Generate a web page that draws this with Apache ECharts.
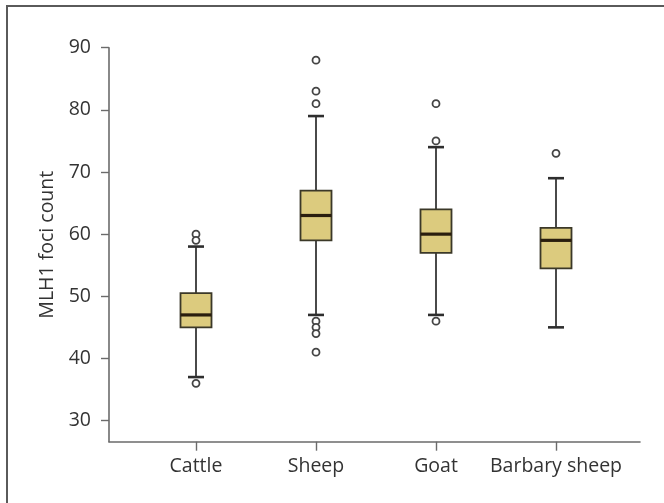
<!DOCTYPE html>
<html>
<head>
<meta charset="utf-8">
<script src="https://cdn.jsdelivr.net/npm/echarts@6/dist/echarts.min.js"></script>
<style>
html,body{margin:0;padding:0;background:#fff;}
#chart{width:664px;height:503px;}
</style>
</head>
<body>
<div id="chart"></div>
<script>
// ---- data ----
const categories = ['Cattle', 'Sheep', 'Goat', 'Barbary sheep'];
const lowerWhisker = [37, 47, 47, 45];
const q1 = [45, 59, 57, 54.5];
const median = [47, 63, 60, 59];
const q3 = [50.5, 67, 64, 61];
const upperWhisker = [58, 79, 74, 69];
const outliers = [
  [60, 59, 36],
  [88, 83, 81, 46, 45, 44, 41],
  [81, 75, 46],
  [73]
];
const yTicks = [30, 40, 50, 60, 70, 80, 90];
const xTicks = [1, 2, 3, 4];

// ---- build series data ----
const boxData = categories.map((c, i) => [i + 1, lowerWhisker[i], q1[i], median[i], q3[i], upperWhisker[i]]);
const outlierData = [];
outliers.forEach((arr, i) => arr.forEach(v => outlierData.push([i + 1, v])));

const FONT = 'Open Sans';
const FS = 19.5;
const chart = echarts.init(document.getElementById('chart'), null, {renderer: 'canvas'});

function renderBox(params, api) {
  const x = api.value(0);
  const pLow = api.coord([x, api.value(1)]);
  const pQ1 = api.coord([x, api.value(2)]);
  const pMed = api.coord([x, api.value(3)]);
  const pQ3 = api.coord([x, api.value(4)]);
  const pHigh = api.coord([x, api.value(5)]);
  const cx = pMed[0];
  const hw = 15.5;
  const cap = 8;
  const whiskerStyle = {stroke: '#4a4a4a', lineWidth: 2};
  const capStyle = {stroke: '#2e2e2e', lineWidth: 2.6};
  return {
    type: 'group',
    children: [
      {type: 'line', shape: {x1: cx, y1: pLow[1], x2: cx, y2: pQ1[1]}, style: whiskerStyle},
      {type: 'line', shape: {x1: cx, y1: pQ3[1], x2: cx, y2: pHigh[1]}, style: whiskerStyle},
      {type: 'line', shape: {x1: cx - cap, y1: pLow[1], x2: cx + cap, y2: pLow[1]}, style: capStyle},
      {type: 'line', shape: {x1: cx - cap, y1: pHigh[1], x2: cx + cap, y2: pHigh[1]}, style: capStyle},
      {type: 'rect', shape: {x: cx - hw, y: pQ3[1], width: hw * 2, height: pQ1[1] - pQ3[1]},
        style: {fill: '#dccb7e', stroke: '#3b3828', lineWidth: 1.8}},
      {type: 'line', shape: {x1: cx - hw, y1: pMed[1], x2: cx + hw, y2: pMed[1]},
        style: {stroke: '#2a1e0e', lineWidth: 3.2}}
    ]
  };
}

const option = {
  animation: false,
  backgroundColor: '#ffffff',
  grid: {left: 109, right: 24, top: 47.7, bottom: 61.3},
  xAxis: {
    type: 'value',
    min: 0.275,
    max: 4.7,
    splitLine: {show: false},
    axisLine: {show: true, lineStyle: {color: '#6b6b6b', width: 1.6}},
    axisTick: {show: true, customValues: xTicks, length: 9, lineStyle: {color: '#6b6b6b', width: 1.4}},
    axisLabel: {
      customValues: xTicks,
      formatter: v => categories[Math.round(v) - 1],
      fontFamily: FONT, fontSize: FS, color: '#333', margin: 15
    }
  },
  yAxis: {
    type: 'value',
    min: 26.6,
    max: 90,
    name: 'MLH1 foci count',
    nameLocation: 'middle',
    nameGap: 47,
    nameTextStyle: {fontFamily: FONT, fontSize: FS, color: '#333'},
    splitLine: {show: false},
    axisLine: {show: true, lineStyle: {color: '#6b6b6b', width: 1.6}},
    axisTick: {show: true, customValues: yTicks, length: 8, lineStyle: {color: '#6b6b6b', width: 1.4}},
    axisLabel: {customValues: yTicks, fontFamily: FONT, fontSize: FS, color: '#333', margin: 18}
  },
  graphic: [
    {type: 'line', shape: {x1: 6, y1: 6, x2: 664, y2: 6}, style: {stroke: '#5a5a5a', lineWidth: 2}},
    {type: 'line', shape: {x1: 7, y1: 5, x2: 7, y2: 503}, style: {stroke: '#5a5a5a', lineWidth: 2}}
  ],
  series: [
    {
      type: 'custom',
      renderItem: renderBox,
      encode: {x: 0, y: [1, 2, 3, 4, 5]},
      data: boxData,
      z: 2
    },
    {
      type: 'scatter',
      data: outlierData,
      symbol: 'circle',
      symbolSize: 7,
      itemStyle: {color: '#ffffff', borderColor: '#444', borderWidth: 1.8, opacity: 1},
      z: 3
    }
  ]
};
chart.setOption(option);
</script>
</body>
</html>
